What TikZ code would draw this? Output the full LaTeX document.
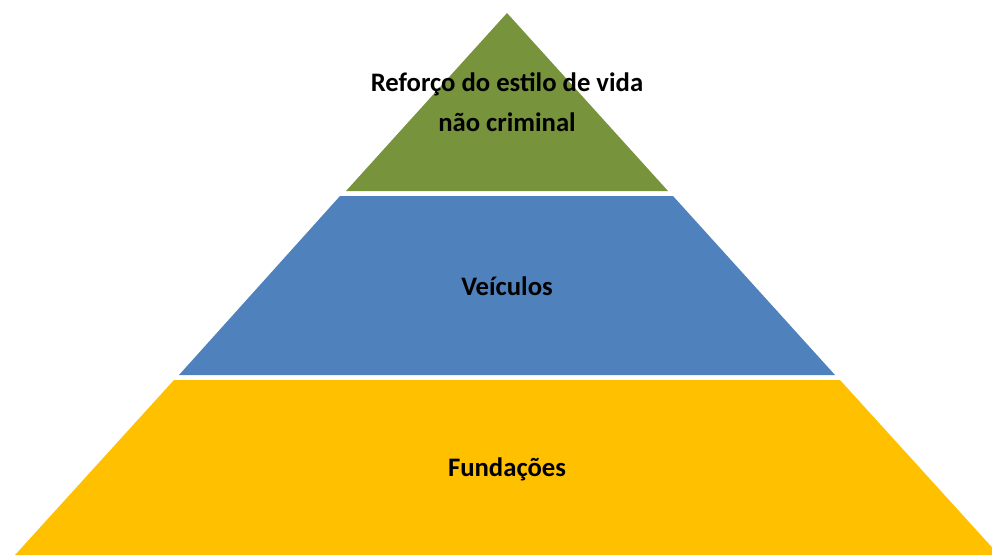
\documentclass[tikz,border=0pt]{standalone}
\usepackage{fontspec}
\setmainfont{Carlito}
\definecolor{lvgreen}{HTML}{77933C}
\definecolor{lvblue}{HTML}{4F81BD}
\definecolor{lvyellow}{HTML}{FFC000}
\tikzset{
  layer/.style={draw=none},
  lbl/.style={font=\bfseries\fontsize{26.7}{40}\selectfont, align=center, text=black, inner sep=0pt}
}
\begin{document}
\begin{tikzpicture}[x=1pt,y=-1pt]
\useasboundingbox (0,0) rectangle (992,555);
\clip (0,0) rectangle (992,555);
\fill[lvgreen, layer] (507,13) -- (668,191) -- (346,191) -- cycle;
\fill[lvblue, layer] (340,196) -- (673,196) -- (835,375) -- (179,375) -- cycle;
\fill[lvyellow, layer] (174,380) -- (840,380) -- (999,555) -- (15,555) -- cycle;
\node[lbl] (top) at (507,102) {Reforço do estilo de vida\\não criminal};
\node[lbl] (mid) at (507,286) {Veículos};
\node[lbl] (bot) at (507,469) {Fundações};
\end{tikzpicture}
\end{document}
